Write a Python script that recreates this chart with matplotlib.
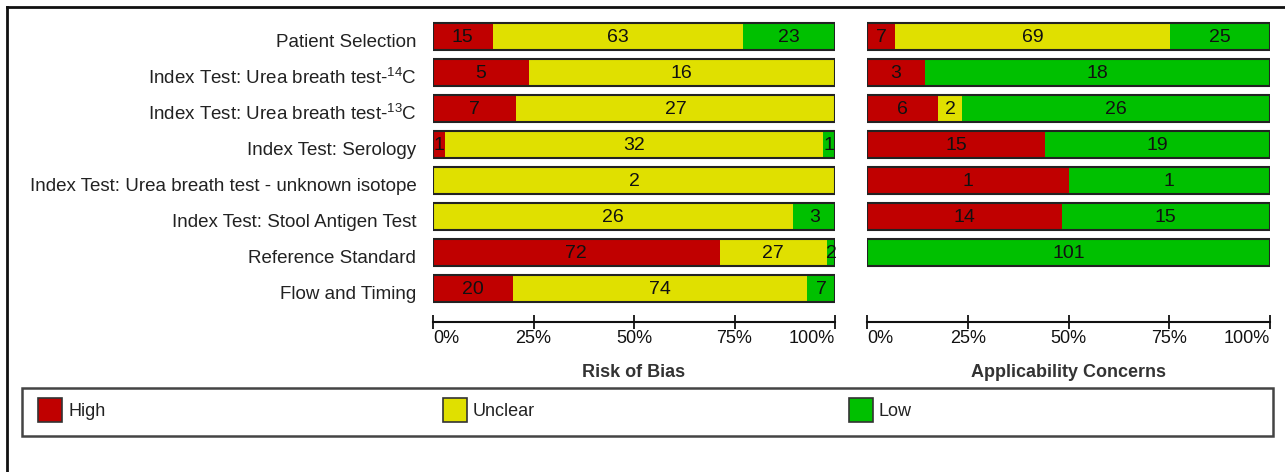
import matplotlib
matplotlib.use("Agg")
import matplotlib.pyplot as plt
import matplotlib.transforms as mtransforms
from matplotlib.patches import Rectangle
from matplotlib.lines import Line2D
import numpy as np

plt.rcParams['font.family'] = ['Liberation Sans', 'DejaVu Sans']
plt.rcParams['mathtext.fontset'] = 'custom'
plt.rcParams['mathtext.rm'] = 'Liberation Sans'
plt.rcParams['mathtext.it'] = 'Liberation Sans'
plt.rcParams['mathtext.default'] = 'regular'

# Domains (rows, top to bottom)
domains = [
    "Patient Selection",
    r"Index Test: Urea breath test-$^{14}$C",
    r"Index Test: Urea breath test-$^{13}$C",
    "Index Test: Serology",
    "Index Test: Urea breath test - unknown isotope",
    "Index Test: Stool Antigen Test",
    "Reference Standard",
    "Flow and Timing",
]
levels = ["High", "Unclear", "Low"]
level_colors = ["#C00000", "#E0E000", "#00C000"]

# Study counts per judgement: High, Unclear, Low
bias_high    = [15, 5, 7, 1, 0, 0, 72, 20]
bias_unclear = [63, 16, 27, 32, 2, 26, 27, 74]
bias_low     = [23, 0, 0, 1, 0, 3, 2, 7]

appl_high    = [7, 3, 6, 15, 1, 14, 0, 0]
appl_unclear = [69, 0, 2, 0, 0, 0, 0, 0]
appl_low     = [25, 18, 26, 19, 1, 15, 101, 0]

panel_titles = ["Risk of Bias", "Applicability Concerns"]
pct_ticks = [0, 25, 50, 75, 100]
pct_labels = ["0%", "25%", "50%", "75%", "100%"]

W, H = 1285, 472
fig = plt.figure(figsize=(W / 100, H / 100), dpi=100)
fig.patch.set_facecolor("white")

# outer frame (top and left edges visible)
fig.add_artist(Line2D([7 / W, 1.0], [1 - 7 / H, 1 - 7 / H], transform=fig.transFigure,
                      color="#111111", lw=2))
fig.add_artist(Line2D([7 / W, 7 / W], [0, 1 - 7 / H], transform=fig.transFigure,
                      color="#111111", lw=2))

ax_bottom = 1 - 306 / H
ax_height = 288 / H
ax1 = fig.add_axes([433 / W, ax_bottom, 402 / W, ax_height])
ax2 = fig.add_axes([867 / W, ax_bottom, 403 / W, ax_height])

panels = [
    (ax1, [bias_high, bias_unclear, bias_low]),
    (ax2, [appl_high, appl_unclear, appl_low]),
]

n = len(domains)
ypos = np.arange(n)
bar_h = 0.75

for (ax, series), title in zip(panels, panel_titles):
    counts = np.array(series, dtype=float)  # shape (3, n)
    totals = counts.sum(axis=0)
    safe = np.where(totals > 0, totals, 1)
    pcts = counts / safe * 100
    left = np.zeros(n)
    for k in range(3):
        ax.barh(ypos, pcts[k], left=left, height=bar_h, color=level_colors[k],
                edgecolor="none", zorder=2)
        for i in range(n):
            if counts[k, i] > 0:
                ax.text(left[i] + pcts[k, i] / 2, ypos[i], f"{int(counts[k, i])}",
                        ha="center", va="center_baseline", fontsize=14,
                        color="#111111", zorder=4)
        left = left + pcts[k]
    has = totals > 0
    ax.barh(ypos[has], np.full(has.sum(), 100.0), height=bar_h, fill=False,
            edgecolor="#222222", linewidth=1.5, zorder=3)

    ax.set_xlim(0, 100)
    ax.set_ylim(n - 0.5, -0.5)
    for s in ["top", "left", "right"]:
        ax.spines[s].set_visible(False)
    ax.spines["bottom"].set_position(("outward", 11.5))
    ax.spines["bottom"].set_linewidth(1.5)
    ax.spines["bottom"].set_color("#111111")
    ax.set_xticks(pct_ticks)
    ax.set_xticklabels(pct_labels)
    ax.tick_params(axis="x", direction="inout", length=10, width=1.3,
                   labelsize=13, pad=1, colors="#111111")
    tl = ax.get_xticklabels()
    tl[0].set_ha("left")
    tl[-1].set_ha("right")
    ax.set_xlabel(title, fontsize=13, fontweight="bold", color="#333333", labelpad=12)
    ax.tick_params(axis="y", length=0)

ax1.set_yticks(ypos)
ax1.set_yticklabels(domains, fontsize=13.5, color="#222222")
ax1.tick_params(axis="y", pad=12)
shift = mtransforms.ScaledTranslation(0, -3 / 72, fig.dpi_scale_trans)
for lab in ax1.get_yticklabels():
    lab.set_transform(lab.get_transform() + shift)
ax2.set_yticks([])

# legend box
fig.add_artist(Rectangle((22 / W, 1 - 436 / H), (1273 - 22) / W, 48 / H,
                         transform=fig.transFigure, fill=False,
                         edgecolor="#444444", lw=1.8))
legend_x = [38, 443, 849]
for x, lab, col in zip(legend_x, levels, level_colors):
    fig.add_artist(Rectangle((x / W, 1 - 422 / H), 24 / W, 24 / H,
                             transform=fig.transFigure, facecolor=col,
                             edgecolor="#333333", lw=1.2))
    fig.text((x + 30) / W, 1 - 411 / H, lab, fontsize=13, color="#222222",
             ha="left", va="center")

fig.savefig("out.png", dpi=100)
